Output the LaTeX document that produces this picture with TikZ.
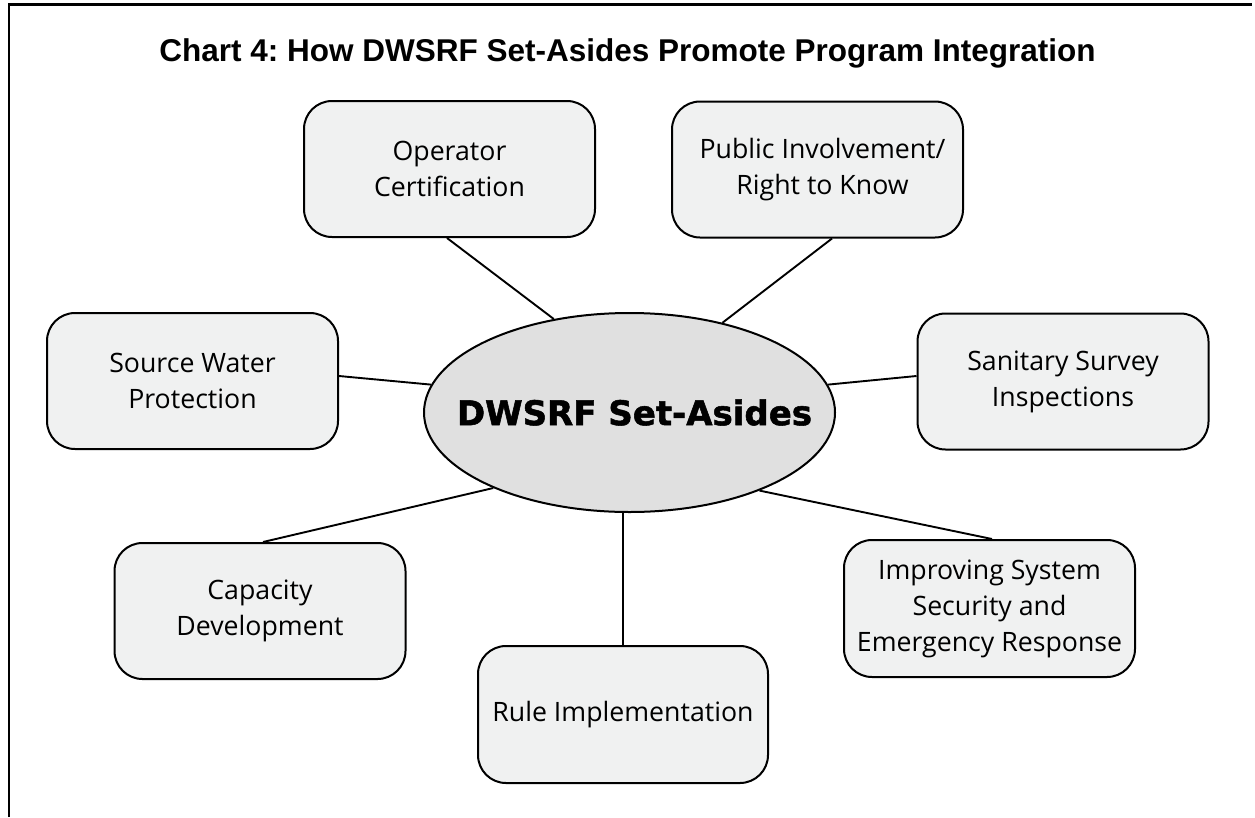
\documentclass[tikz,border=0pt]{standalone}
\usepackage{fontspec}
\newfontfamily\boxfont{Open Sans}
\newfontfamily\titlefont{Liberation Sans}
\newfontfamily\ellfont{DejaVu Sans}[BoldFeatures={FakeBold=1.6}]
\usetikzlibrary{shapes.geometric}
\definecolor{boxfill}{RGB}{240,241,241}
\definecolor{ellfill}{RGB}{224,224,224}
\frenchspacing
\begin{document}
\begin{tikzpicture}[x=1pt,y=-1pt,
  topic/.style={draw=black, line width=2pt, fill=boxfill, rectangle, rounded corners=28pt,
    minimum width=291pt, minimum height=136pt, align=center,
    font=\boxfont\fontsize{26.7}{36}\selectfont, inner sep=0pt},
  link/.style={draw=black, line width=1.9pt}]
\useasboundingbox (0,0) rectangle (1255,817);
\draw[line width=2.5pt, line join=miter] (9,817) -- (9,4.5) -- (1252,4.5);

\node[anchor=base, inner sep=0pt, font=\titlefont\bfseries\fontsize{31.5}{36}\selectfont] (title) at (627.5,61)
  {Chart 4: How DWSRF Set-Asides Promote Program Integration};

\node[ellipse, draw=black, line width=2pt, fill=ellfill, minimum width=411pt, minimum height=199pt,
  inner sep=0pt,
  label={[name=elt, inner sep=0pt, xshift=5pt, font=\ellfont\bfseries\fontsize{34}{40}\selectfont]center:DWSRF Set-Asides}]
  (el) at (629.5,412.5) {};

\node[topic] (op) at (449.5,169) {Operator\\Certification};
\node[topic] (pi) at (817.5,169.5) {\hspace*{10pt}Public Involvement/\\\hspace*{10pt}Right to Know};
\node[topic] (sw) at (192.5,381) {Source Water\\Protection};
\node[topic] (ss) at (1063,381.5) {Sanitary Survey\\Inspections};
\node[topic] (cd) at (260,611) {Capacity\\Development};
\node[topic, minimum height=137pt] (is) at (989.5,608.5) {Improving System\\Security and\\Emergency Response};
\node[topic, minimum width=290pt, minimum height=137pt] (rl) at (623,714.5) {Rule Implementation};

\draw[link] ([xshift=-2.5pt]op.south) -- (el.129.9);
\draw[link] ([xshift=14.5pt]pi.south) -- (el.44.4);
\draw[link] ([yshift=5pt]sw.east) -- (el.172.4);
\draw[link] ([yshift=5.5pt]ss.west) -- (el.8.1);
\draw[link] ([xshift=3pt]cd.north) -- (el.209.6);
\draw[link] ([xshift=2.5pt]is.north) -- (el.329.6);
\draw[link] (rl.north) -- (rl.north |- el.south);
\end{tikzpicture}
\end{document}
